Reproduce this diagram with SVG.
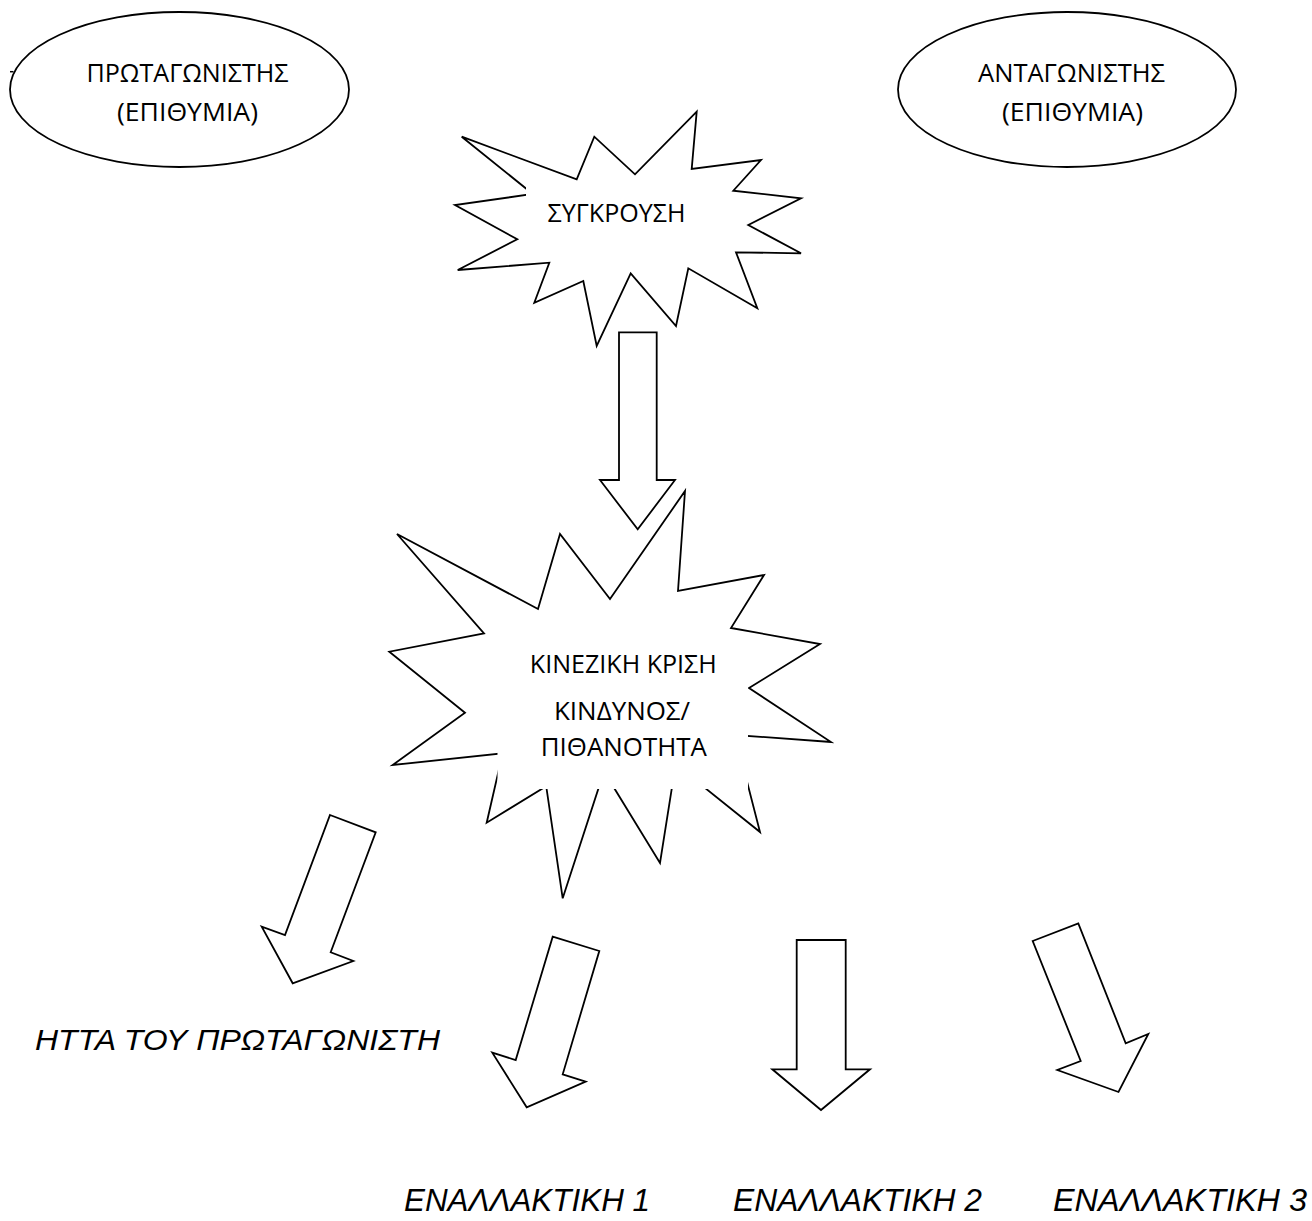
<svg xmlns="http://www.w3.org/2000/svg" width="1312" height="1221" viewBox="0 0 1312 1221">
  <style>
    .shape { fill: #ffffff; stroke: #000000; stroke-width: 1.8; stroke-linejoin: miter; }
    .mask { fill: #ffffff; stroke: none; }
    .lbl { font-family: "Open Sans", "Noto Sans", sans-serif; font-size: 26px; fill: #000000; }
    .it { font-family: "Liberation Sans", Arial, sans-serif; font-size: 30px; font-style: italic; fill: #000000; }
    .it2 { font-family: "Liberation Sans", Arial, sans-serif; font-size: 32px; font-style: italic; fill: #000000; }
  </style>
  <rect x="0" y="0" width="1312" height="1221" fill="#ffffff"/>

  <g id="protagonist">
    <line x1="10" y1="71.7" x2="13.5" y2="71.7" stroke="#000" stroke-width="1.5"/>
    <ellipse class="shape" cx="179.5" cy="89.5" rx="169.5" ry="77.5"/>
    <text class="lbl" x="86.5" y="82" textLength="202" lengthAdjust="spacingAndGlyphs">ΠΡΩΤΑΓΩΝΙΣΤΗΣ</text>
    <text class="lbl" x="117" y="121" textLength="141" lengthAdjust="spacingAndGlyphs">(ΕΠΙΘΥΜΙΑ)</text>
  </g>

  <g id="antagonist">
    <ellipse class="shape" cx="1067" cy="89.5" rx="169" ry="77.5"/>
    <text class="lbl" x="978" y="82" textLength="187" lengthAdjust="spacingAndGlyphs">ΑΝΤΑΓΩΝΙΣΤΗΣ</text>
    <text class="lbl" x="1002" y="121" textLength="141" lengthAdjust="spacingAndGlyphs">(ΕΠΙΘΥΜΙΑ)</text>
  </g>

  <g id="conflict">
    <polygon class="shape" points="696.7,111.7 691.7,169 761,160 733.3,190.7 801,198.3 748.3,225 801,253.3 736,252.3 757.3,308.3 688.3,268.3 676,326 630.7,273.3 596.7,346 583.3,281 534.3,302.7 549.3,262.7 457.7,270 517.3,239.3 455,205 532.8,194 461.7,136.7 576.7,179.3 594.3,136.7 635,174.3"/>
    <rect class="mask" x="526" y="184" width="181" height="71"/>
    <text class="lbl" x="547.5" y="221.7" textLength="138" lengthAdjust="spacingAndGlyphs">ΣΥΓΚΡΟΥΣΗ</text>
  </g>

  <g id="crisis">
    <polygon class="shape" points="397,534 538,609 560,534 610,599 685,491 678,591 764,575 731,628 820,644 749,688 831,742 735,735 760,832 675.6,764.4 660,863 604,771.5 562.7,898.3 546.2,786.2 486.7,822.7 502.6,753.4 392.7,765 465,712.7 389.3,651.7 484,633.3"/>
    <rect class="mask" x="497.5" y="640" width="250.5" height="149"/>
    <text class="lbl" x="529.8" y="673" textLength="187" lengthAdjust="spacingAndGlyphs">ΚΙΝΕΖΙΚΗ ΚΡΙΣΗ</text>
    <text class="lbl" x="554" y="719.5" textLength="136" lengthAdjust="spacingAndGlyphs">ΚΙΝΔΥΝΟΣ/</text>
    <text class="lbl" x="540.8" y="756" textLength="166" lengthAdjust="spacingAndGlyphs">ΠΙΘΑΝΟΤΗΤΑ</text>
  </g>

  <g id="defeat">
    <text class="it" x="35" y="1050" textLength="405" lengthAdjust="spacingAndGlyphs">ΗΤΤΑ ΤΟΥ ΠΡΩΤΑΓΩΝΙΣΤΗ</text>
  </g>
  <g id="alt1">
    <text class="it2" x="404" y="1211" textLength="246" lengthAdjust="spacingAndGlyphs">ΕΝΑΛΛΑΚΤΙΚΗ 1</text>
  </g>
  <g id="alt2">
    <text class="it2" x="733" y="1211" textLength="249" lengthAdjust="spacingAndGlyphs">ΕΝΑΛΛΑΚΤΙΚΗ 2</text>
  </g>
  <g id="alt3">
    <text class="it2" x="1053" y="1211" textLength="254" lengthAdjust="spacingAndGlyphs">ΕΝΑΛΛΑΚΤΙΚΗ 3</text>
  </g>

  <g id="connectors">
    <polygon class="shape" points="619,332.3 656.7,332.3 656.7,480 675,480 637.7,529.3 600,480 619,480"/>
    <polygon class="shape" points="330,815 375.7,832.3 330.7,952.3 353.3,961 292.7,983.3 261.7,926.7 285,935"/>
    <polygon class="shape" points="552.7,936.7 599.3,951 562.7,1074.3 585.7,1081.7 526.7,1107.3 492.3,1052.7 515.7,1060"/>
    <polygon class="shape" points="796.7,940 845.7,940 845.7,1069.3 870,1069.3 821,1110 772.3,1069.3 796.7,1069.3"/>
    <polygon class="shape" points="1032.7,941 1078.3,923.3 1125.7,1043.3 1148.3,1034 1118.5,1092 1057.3,1070 1080.7,1061"/>
  </g>
</svg>
